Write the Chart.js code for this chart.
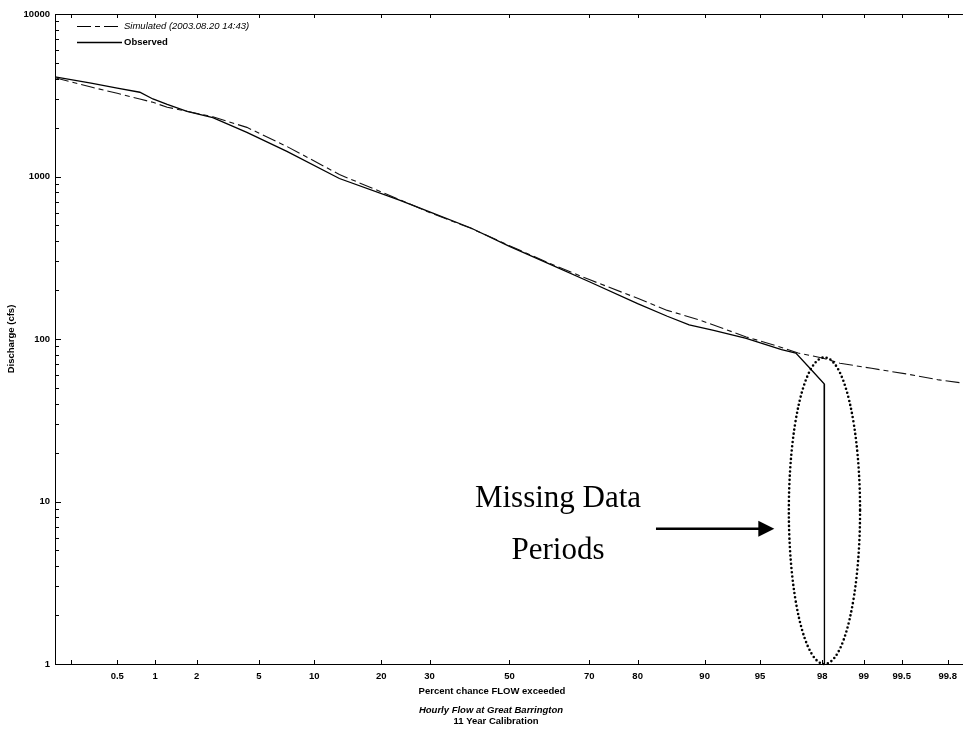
<!DOCTYPE html>
<html lang="en">
<head>
<meta charset="UTF-8">
<title>Hourly Flow at Great Barrington - Flow Duration</title>
<script src="https://cdn.jsdelivr.net/npm/chart.js"></script>
<style>
    /* plain white page, chart fills the window */
    body {
        margin: 0px;
        background: white;
    }
    #wrap {
        width: 964px;
        height: 729px;
    }
</style>
</head>
<body>

<div id="wrap">
    <canvas id="duration" width="964" height="729"></canvas>
</div>

<script>
    // flow duration: percent of time flow is exceeded vs discharge (cfs)
    const simPct = [0.142, 0.3, 0.5, 0.76, 0.96, 1.23, 1.71, 2.57, 4.23, 7.19, 13.2, 23.5, 30, 40, 50, 60, 70, 80, 85, 89.4, 94, 96, 97.1, 98, 98.5, 99.13, 99.54, 99.76, 99.855];
    const simCfs = [4050, 3550, 3250, 3000, 2860, 2670, 2520, 2330, 2006, 1531, 1029, 721, 600, 480, 375, 295, 232, 178, 150, 131, 103, 91, 82, 76.4, 71, 66, 61, 56, 53.5];

    const obsPct = [0.142, 0.3, 0.5, 0.76, 0.96, 1.23, 1.71, 2.57, 4.23, 7.19, 13.2, 23.5, 30, 40, 50, 60, 70, 80, 85, 88.1, 91, 94, 96.3, 97.0, 97.54, 98.06, 98.07];
    const obsCfs = [4100, 3750, 3500, 3300, 3000, 2780, 2520, 2300, 1870, 1427, 972, 715, 605, 482, 372, 292, 225, 165, 138, 122, 113, 101, 86, 82, 67, 53, 1];

    const xTickPct = [0.2, 0.5, 1, 2, 5, 10, 20, 30, 50, 70, 80, 90, 95, 98, 99, 99.5, 99.8];
    const xTickLabels = ['', '0.5', '1', '2', '5', '10', '20', '30', '50', '70', '80', '90', '95', '98', '99', '99.5', '99.8'];
    const yTickValues = [1, 10, 100, 1000, 10000];
    const yTickLabels = ['1', '10', '100', '1000', '10000'];

    const X_MIN_PCT = 0.142;
    const X_MAX_PCT = 99.855;

    // note about the gap in the record
    const noteLines = ['Missing Data', 'Periods'];
    const notePct = 62.5;
    const noteCfs = [9.19, 4.45];
    const arrowPct = [83.2, 95.9];
    const arrowCfs = 6.8;
    const ringPct = [96.53, 98.07, 98.88];
    const ringCfs = [1, 77];

    const SANS = '"Liberation Sans", Arial, sans-serif';

    // inverse normal cdf (Acklam) -> probability paper position
    function probit(pct) {
        const p = pct / 100;
        const a = [-3.969683028665376e+01, 2.209460984245205e+02, -2.759285104469687e+02,
            1.383577518672690e+02, -3.066479806614716e+01, 2.506628277459239e+00];
        const b = [-5.447609879822406e+01, 1.615858368580409e+02, -1.556989798598866e+02,
            6.680131188771972e+01, -1.328068155288572e+01];
        const c = [-7.784894002430293e-03, -3.223964580411365e-01, -2.400758277161838e+00,
            -2.549732539343734e+00, 4.374664141464968e+00, 2.938163982698783e+00];
        const d = [7.784695709041462e-03, 3.224671290700398e-01, 2.445134137142996e+00,
            3.754408661907416e+00];
        const pl = 0.02425;
        let q, r;
        if (p < pl) {
            q = Math.sqrt(-2 * Math.log(p));
            return (((((c[0]*q+c[1])*q+c[2])*q+c[3])*q+c[4])*q+c[5]) / ((((d[0]*q+d[1])*q+d[2])*q+d[3])*q+1);
        }
        if (p > 1 - pl) {
            q = Math.sqrt(-2 * Math.log(1 - p));
            return -(((((c[0]*q+c[1])*q+c[2])*q+c[3])*q+c[4])*q+c[5]) / ((((d[0]*q+d[1])*q+d[2])*q+d[3])*q+1);
        }
        q = p - 0.5;
        r = q * q;
        return (((((a[0]*r+a[1])*r+a[2])*r+a[3])*r+a[4])*r+a[5])*q / (((((b[0]*r+b[1])*r+b[2])*r+b[3])*r+b[4])*r+1);
    }

    function toPoints(pcts, vals) {
        return pcts.map((p, i) => ({x: probit(p), y: vals[i]}));
    }

    function line(ctx, x0, y0, x1, y1) {
        ctx.beginPath();
        ctx.moveTo(x0, y0);
        ctx.lineTo(x1, y1);
        ctx.stroke();
    }

    // frame, inward tick marks, legend, captions and the note
    const extras = {
        id: 'extras',
        afterDraw(chart) {
            const ctx = chart.ctx;
            const a = chart.chartArea;
            const xs = chart.scales.x;
            const ys = chart.scales.y;
            ctx.save();
            ctx.strokeStyle = '#000';
            ctx.fillStyle = '#000';
            ctx.lineWidth = 1;

            line(ctx, a.left, a.top + 0.5, a.right, a.top + 0.5);

            xTickPct.forEach(p => {
                const px = Math.round(xs.getPixelForValue(probit(p))) + 0.5;
                line(ctx, px, a.bottom, px, a.bottom - 4);
                line(ctx, px, a.top, px, a.top + 4);
            });

            for (let n = 0; n < 4; n++) {
                for (let k = 1; k < 10; k++) {
                    const py = Math.round(ys.getPixelForValue(k * Math.pow(10, n))) + 0.5;
                    line(ctx, a.left, py, a.left + (k === 1 ? 6 : 4), py);
                }
            }

            // legend
            const ds = chart.data.datasets;
            const legendFonts = ['italic 9.5px ' + SANS, 'bold 9.5px ' + SANS];
            ctx.textBaseline = 'middle';
            ctx.textAlign = 'left';
            ds.forEach((d, i) => {
                const ly = 26 + i * 16;
                ctx.save();
                ctx.lineWidth = d.borderWidth;
                ctx.setLineDash(d.borderDash || []);
                line(ctx, 77, ly + 0.5, 122, ly + 0.5);
                ctx.restore();
                ctx.font = legendFonts[i];
                ctx.fillText(d.label, 124, ly);
            });

            // axis title and captions under the chart
            ctx.textAlign = 'center';
            ctx.font = 'bold 9.5px ' + SANS;
            ctx.fillText('Percent chance FLOW exceeded', 492, 691);
            ctx.font = 'italic bold 9.5px ' + SANS;
            ctx.fillText('Hourly Flow at Great Barrington', 491, 710);
            ctx.font = 'bold 9.5px ' + SANS;
            ctx.fillText('11 Year Calibration', 496, 721);

            // note text
            ctx.font = '31px "Liberation Serif", "Times New Roman", serif';
            ctx.textBaseline = 'alphabetic';
            const nx = xs.getPixelForValue(probit(notePct));
            noteLines.forEach((t, i) => ctx.fillText(t, nx, ys.getPixelForValue(noteCfs[i])));

            // arrow
            const ax0 = xs.getPixelForValue(probit(arrowPct[0]));
            const ax1 = xs.getPixelForValue(probit(arrowPct[1]));
            const ay = ys.getPixelForValue(arrowCfs);
            ctx.lineWidth = 2.4;
            line(ctx, ax0, ay, ax1 - 12, ay);
            ctx.beginPath();
            ctx.moveTo(ax1 - 16, ay - 8);
            ctx.lineTo(ax1, ay);
            ctx.lineTo(ax1 - 16, ay + 8);
            ctx.closePath();
            ctx.fill();

            // dotted ring round the gap
            const rl = xs.getPixelForValue(probit(ringPct[0]));
            const rc = xs.getPixelForValue(probit(ringPct[1]));
            const rr = xs.getPixelForValue(probit(ringPct[2]));
            const rb = ys.getPixelForValue(ringCfs[0]);
            const rt = ys.getPixelForValue(ringCfs[1]);
            ctx.lineWidth = 2.6;
            ctx.lineCap = 'round';
            ctx.setLineDash([0, 4.2]);
            ctx.beginPath();
            ctx.ellipse(rc, (rb + rt) / 2, (rr - rl) / 2, (rb - rt) / 2, 0, 0, Math.PI * 2);
            ctx.stroke();
            ctx.restore();
        }
    };

    const config = {
        type: 'line',
        data: {
            datasets: [{
                label: 'Simulated (2003.08.20 14:43)',
                data: toPoints(simPct, simCfs),
                borderColor: '#111',
                borderWidth: 1.1,
                borderDash: [14, 4, 5, 4],
                pointRadius: 0,
                fill: false,
                tension: 0
            }, {
                label: 'Observed',
                data: toPoints(obsPct, obsCfs),
                borderColor: '#000',
                borderWidth: 1.3,
                pointRadius: 0,
                fill: false,
                tension: 0
            }]
        },
        options: {
            responsive: false,
            animation: false,
            layout: {padding: {top: 14, right: 0, bottom: 0, left: 0}},
            plugins: {
                legend: {display: false},
                tooltip: {enabled: false}
            },
            scales: {
                x: {
                    type: 'linear',
                    min: probit(X_MIN_PCT),
                    max: probit(X_MAX_PCT),
                    afterBuildTicks: s => { s.ticks = xTickPct.map(p => ({value: probit(p)})); },
                    afterFit: s => { s.height = 65; },
                    grid: {display: false, drawTicks: false},
                    border: {display: true, color: '#000', width: 1},
                    ticks: {
                        autoSkip: false,
                        maxRotation: 0,
                        padding: 7,
                        color: '#000',
                        font: {family: SANS, size: 9.5, weight: 'bold'},
                        callback: (v, i) => xTickLabels[i]
                    }
                },
                y: {
                    type: 'logarithmic',
                    min: 1,
                    max: 10000,
                    afterBuildTicks: s => { s.ticks = yTickValues.map(v => ({value: v})); },
                    afterFit: s => { s.width = 55; },
                    grid: {display: false, drawTicks: false},
                    border: {display: true, color: '#000', width: 1},
                    ticks: {
                        padding: 5,
                        color: '#000',
                        font: {family: SANS, size: 9.5, weight: 'bold'},
                        callback: (v, i) => yTickLabels[i]
                    },
                    title: {
                        display: true,
                        text: 'Discharge (cfs)',
                        color: '#000',
                        font: {family: SANS, size: 9.5, weight: 'bold'},
                        padding: {top: 6, bottom: 0}
                    }
                }
            }
        },
        plugins: [extras]
    };

    let duration = new Chart(document.getElementById('duration'), config);
</script>
</body>
</html>
